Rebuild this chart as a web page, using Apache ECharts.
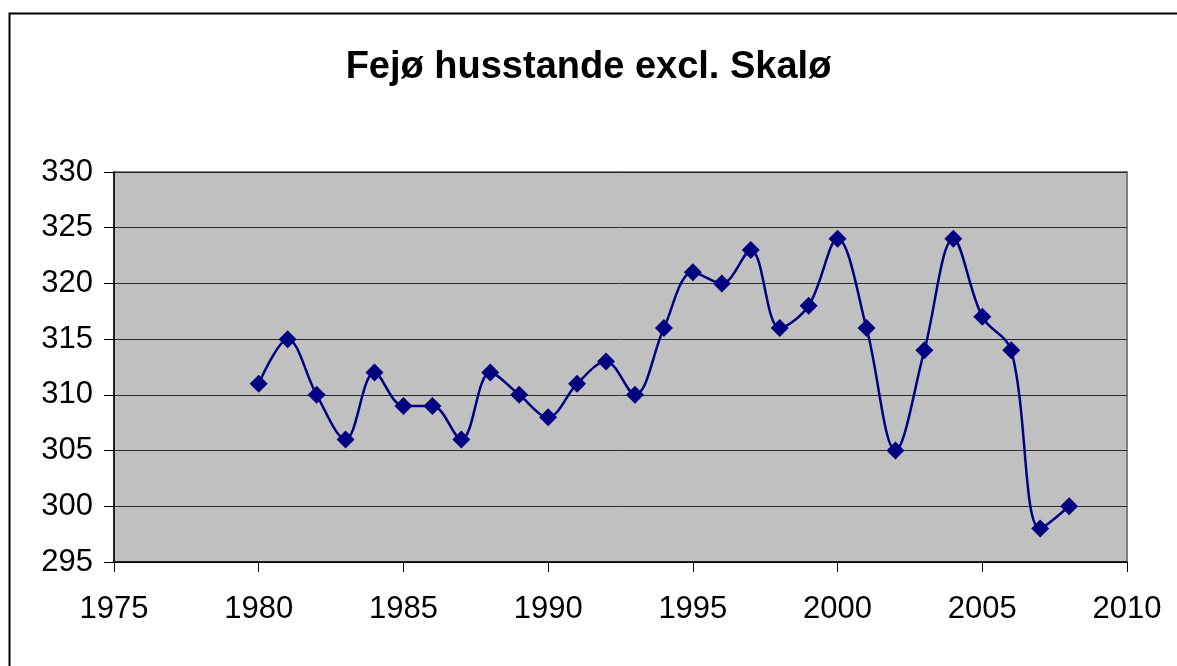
<!DOCTYPE html>
<html>
<head>
<meta charset="utf-8">
<script src="https://cdn.jsdelivr.net/npm/echarts@6/dist/echarts.min.js"></script>
<style>
  html, body { margin: 0; padding: 0; background: #fff; }
  #chart { width: 1177px; height: 666px; }
</style>
</head>
<body>
<div id="chart"></div>
<script>
// husstande pr. år
var years = [1980, 1981, 1982, 1983, 1984, 1985, 1986, 1987, 1988, 1989,
             1990, 1991, 1992, 1993, 1994, 1995, 1996, 1997, 1998, 1999,
             2000, 2001, 2002, 2003, 2004, 2005, 2006, 2007, 2008];
var households = [311, 315, 310, 306, 312, 309, 309, 306, 312, 310,
                  308, 311, 313, 310, 316, 321, 320, 323, 316, 318,
                  324, 316, 305, 314, 324, 317, 314, 298, 300];

var points = [];
for (var i = 0; i < years.length; i++) {
    points.push([years[i], households[i]]);
}

var font = "'Liberation Sans', Arial, sans-serif";

var option = {
    animation: false,
    backgroundColor: "#fff",
    title: {
        text: "Fejø husstande excl. Skalø",
        left: "center",
        top: 44,
        textStyle: {
            fontFamily: font,
            fontWeight: "bold",
            fontSize: 38,
            color: "#000"
        }
    },
    graphic: [{
        type: "rect",
        left: 7,
        top: 11,
        shape: { width: 1200, height: 700 },
        style: { fill: "none", stroke: "#000", lineWidth: 2 },
        silent: true
    }],
    grid: {
        left: 114,
        top: 172,
        right: 50,
        bottom: 104,
        show: true,
        backgroundColor: "#c0c0c0",
        borderColor: "#808080",
        borderWidth: 2
    },
    xAxis: {
        type: "value",
        min: 1975,
        max: 2010,
        interval: 5,
        axisLine: { lineStyle: { color: "#000", width: 1.5 } },
        axisTick: { show: true, inside: false, length: 10, lineStyle: { color: "#000" } },
        axisLabel: {
            margin: 32,
            fontFamily: font,
            fontSize: 31,
            color: "#000",
            showMinLabel: true,
            showMaxLabel: true,
            formatter: function (v) { return String(v); }
        },
        splitLine: { show: false }
    },
    yAxis: {
        type: "value",
        min: 295,
        max: 330,
        interval: 5,
        axisLine: { show: true, lineStyle: { color: "#000", width: 1.5 } },
        axisTick: { show: true, length: 10, lineStyle: { color: "#000" } },
        axisLabel: {
            margin: 21,
            fontFamily: font,
            fontSize: 31,
            color: "#000"
        },
        splitLine: { lineStyle: { color: "#2a2a2a", width: 1 } }
    },
    series: [{
        type: "line",
        data: points,
        smooth: 0.35,
        symbol: "diamond",
        symbolSize: 18,
        lineStyle: { color: "#000080", width: 2.5 },
        itemStyle: { color: "#000080" }
    }]
};

var myChart = echarts.init(document.getElementById("chart"));
myChart.setOption(option);
</script>
</body>
</html>
